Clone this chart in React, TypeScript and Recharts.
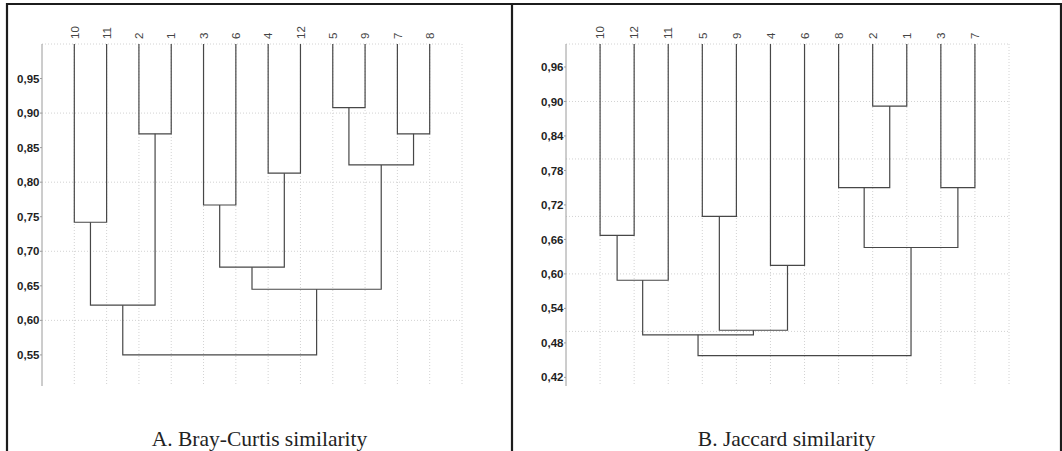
import React from "react"
import { CartesianGrid, Scatter, ScatterChart, XAxis, YAxis } from "recharts"

type Ref = string | number
type Merge = [Ref, Ref, number]

// Panel A: Bray-Curtis
const leavesA = ["10", "11", "2", "1", "3", "6", "4", "12", "5", "9", "7", "8"]
const mergesA: Merge[] = [
  ["10", "11", 0.742],
  ["2", "1", 0.87],
  ["3", "6", 0.767],
  ["4", "12", 0.813],
  ["5", "9", 0.908],
  ["7", "8", 0.87],
  [4, 5, 0.825],
  [0, 1, 0.622],
  [2, 3, 0.677],
  [8, 6, 0.645],
  [7, 9, 0.55],
]
const ticksA = [0.55, 0.6, 0.65, 0.7, 0.75, 0.8, 0.85, 0.9, 0.95]
const gridA = [0.6, 0.7, 0.8, 0.9, 1.0]

// Panel B: Jaccard
const leavesB = ["10", "12", "11", "5", "9", "4", "6", "8", "2", "1", "3", "7"]
const mergesB: Merge[] = [
  ["10", "12", 0.667],
  [0, "11", 0.589],
  ["5", "9", 0.7],
  ["4", "6", 0.615],
  [2, 3, 0.502],
  [1, 4, 0.494],
  ["2", "1", 0.892],
  ["8", 6, 0.75],
  ["3", "7", 0.75],
  [7, 8, 0.646],
  [5, 9, 0.458],
]
const ticksB = [0.42, 0.48, 0.54, 0.6, 0.66, 0.72, 0.78, 0.84, 0.9, 0.96]
const gridB = [0.5, 0.6, 0.7, 0.8, 0.9, 1.0]

const TOP = 1.0

function buildLinks(leaves: string[], merges: Merge[]) {
  const nodes: { x: number; y: number }[] = []
  const pos = (r: Ref) =>
    typeof r === "number" ? nodes[r] : { x: leaves.indexOf(r) + 1, y: TOP }
  return merges.map(([l, r, h]) => {
    const a = pos(l)
    const b = pos(r)
    nodes.push({ x: (a.x + b.x) / 2, y: h })
    return [
      { x: a.x, y: a.y },
      { x: a.x, y: h },
      { x: b.x, y: h },
      { x: b.x, y: b.y },
    ]
  })
}

const fmt = (v: number) => v.toFixed(2).replace(".", ",")

function LeafTick(props: any) {
  const { x, y, payload, leaves } = props
  const label = leaves[payload.value - 1]
  const tx = x + 4.2
  return (
    <text
      x={tx}
      y={y}
      transform={`rotate(-90, ${tx}, ${y})`}
      textAnchor="start"
      fontSize={11.5}
      fontFamily="Liberation Sans, Arial, sans-serif"
      fill="#444"
    >
      {label}
    </text>
  )
}

function Dendrogram({
  leaves,
  merges,
  ticks,
  grid,
  domainMin,
  width,
  yAxisWidth,
  marginRight,
}: {
  leaves: string[]
  merges: Merge[]
  ticks: number[]
  grid: number[]
  domainMin: number
  width: number
  yAxisWidth: number
  marginRight: number
}) {
  const links = buildLinks(leaves, merges)
  const positions = leaves.map((_, i) => i + 1)
  return (
    <ScatterChart width={width} height={400} margin={{ top: 14, right: marginRight, bottom: 14, left: 0 }}>
      <CartesianGrid
        stroke="#d2d2d2"
        strokeDasharray="1 2"
        verticalValues={[...positions, leaves.length + 1]}
        horizontalValues={grid}
      />
      <XAxis
        type="number"
        dataKey="x"
        orientation="top"
        domain={[0, leaves.length + 1]}
        ticks={positions}
        interval={0}
        height={30}
        axisLine={false}
        tickLine={false}
        tickSize={5}
        tickMargin={0}
        allowDataOverflow
        tick={<LeafTick leaves={leaves} />}
      />
      <YAxis
        type="number"
        dataKey="y"
        domain={[domainMin, TOP]}
        ticks={ticks}
        interval={0}
        width={yAxisWidth}
        allowDataOverflow
        tickFormatter={fmt}
        tickSize={2}
        tickMargin={0.5}
        axisLine={{ stroke: "#9a9a9a" }}
        tickLine={{ stroke: "#9a9a9a" }}
        tick={{ fontSize: 11.5, fontWeight: "bold", fill: "#1e1e1e", fontFamily: "Liberation Sans, Arial, sans-serif" }}
      />
      {links.map((pts, i) => (
        <Scatter
          key={i}
          data={pts}
          line={{ stroke: "#474747", strokeWidth: 1.2 }}
          lineType="joint"
          shape={() => <g />}
          isAnimationActive={false}
        />
      ))}
    </ScatterChart>
  )
}

export default function App() {
  return (
    <div style={{ position: "absolute", left: 0, top: 0, width: 1062, height: 451, background: "#fff", overflow: "hidden" }}>
      <div style={{ position: "absolute", left: 0, top: 0 }}>
        <Dendrogram
          leaves={leavesA}
          merges={mergesA}
          ticks={ticksA}
          grid={gridA}
          domainMin={0.505}
          width={512}
          yAxisWidth={42}
          marginRight={50}
        />
      </div>
      <div style={{ position: "absolute", left: 512, top: 0 }}>
        <Dendrogram
          leaves={leavesB}
          merges={mergesB}
          ticks={ticksB}
          grid={gridB}
          domainMin={0.405}
          width={549}
          yAxisWidth={54}
          marginRight={52}
        />
      </div>
      <svg width={1062} height={451} style={{ position: "absolute", left: 0, top: 0, pointerEvents: "none" }}>
        <line x1={6} y1={4} x2={1062} y2={4} stroke="#1c1c1c" strokeWidth={2.2} />
        <line x1={7} y1={3} x2={7} y2={451} stroke="#1c1c1c" strokeWidth={2.2} />
        <line x1={512} y1={3} x2={512} y2={451} stroke="#1c1c1c" strokeWidth={2.2} />
        <line x1={1061} y1={3} x2={1061} y2={451} stroke="#1c1c1c" strokeWidth={2.2} />
        <text x={259.5} y={446} textAnchor="middle" fontSize={21.5} fontFamily="Liberation Serif, Times New Roman, serif" fill="#222">
          A. Bray-Curtis similarity
        </text>
        <text x={786.5} y={446} textAnchor="middle" fontSize={21.5} fontFamily="Liberation Serif, Times New Roman, serif" fill="#222">
          B. Jaccard similarity
        </text>
      </svg>
    </div>
  )
}
